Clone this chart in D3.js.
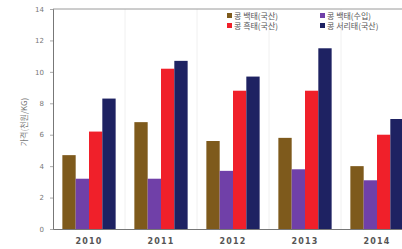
<!DOCTYPE html>
<html>
<head>
<meta charset="utf-8">
<script src="https://cdn.jsdelivr.net/npm/d3@7"></script>
<style>
  body { margin: 0; background: #fff; }
  svg { display: block; font-family: "Noto Sans CJK KR", "DejaVu Sans", sans-serif; }
</style>
</head>
<body>
<div id="wrapper"></div>
<script>
// 1. Data
const years = ["2010", "2011", "2012", "2013", "2014"]
const seriesNames = ["콩 백태(국산)", "콩 백태(수입)", "콩 흑태(국산)", "콩 서리태(국산)"]
const seriesColors = ["#7e5a1c", "#7040a8", "#f0202a", "#1e2262"]
const baekNational = [4.7, 6.8, 5.6, 5.8, 4.0]
const baekImport = [3.2, 3.2, 3.7, 3.8, 3.1]
const heukNational = [6.2, 10.2, 8.8, 8.8, 6.0]
const seoriNational = [8.3, 10.7, 9.7, 11.5, 7.0]
const yTicks = [0, 2, 4, 6, 8, 10, 12, 14]

const seriesValues = [baekNational, baekImport, heukNational, seoriNational]
const rows = years.map((y, i) => ({
  year: y,
  values: seriesValues.map((s, j) => ({ key: j, value: s[i] }))
}))

// 2. Dimensions
const dimensions = {
  width: 402,
  height: 249,
  margin: { top: 9, right: -11, bottom: 20, left: 53 }
}
dimensions.boundedWidth = dimensions.width - dimensions.margin.left - dimensions.margin.right
dimensions.boundedHeight = dimensions.height - dimensions.margin.top - dimensions.margin.bottom

// 3. Canvas
const wrapper = d3.select("#wrapper")
  .append("svg")
  .attr("width", dimensions.width)
  .attr("height", dimensions.height)

const bounds = wrapper.append("g")
  .attr("transform", `translate(${dimensions.margin.left},${dimensions.margin.top})`)

// 4. Scales
const xScale = d3.scaleBand()
  .domain(years)
  .range([0, dimensions.boundedWidth])
  .paddingInner(0.26)
  .paddingOuter(0.13)

const xInner = d3.scaleBand()
  .domain(d3.range(seriesNames.length))
  .range([0, xScale.bandwidth()])

const yScale = d3.scaleLinear()
  .domain([0, 14])
  .range([dimensions.boundedHeight, 0])

// faint separators between groups
bounds.append("g")
  .selectAll("line")
  .data(years.slice(1))
  .join("line")
    .attr("x1", d => xScale(d) - xScale.step() * xScale.paddingInner() / 2)
    .attr("x2", d => xScale(d) - xScale.step() * xScale.paddingInner() / 2)
    .attr("y1", 0)
    .attr("y2", dimensions.boundedHeight)
    .attr("stroke", "#f0f0f0")
    .attr("stroke-width", 1)

// 5. Bars
const groups = bounds.append("g")
  .selectAll("g")
  .data(rows)
  .join("g")
    .attr("transform", d => `translate(${xScale(d.year)},0)`)

groups.selectAll("rect")
  .data(d => d.values)
  .join("rect")
    .attr("x", d => xInner(d.key))
    .attr("y", d => yScale(d.value))
    .attr("width", xInner.bandwidth())
    .attr("height", d => dimensions.boundedHeight - yScale(d.value))
    .attr("fill", d => seriesColors[d.key])

// 6. Axes / frame
bounds.append("line")
  .attr("x1", 0).attr("x2", dimensions.boundedWidth)
  .attr("y1", 0).attr("y2", 0)
  .attr("stroke", "#9a9a9a")

const yAxisGenerator = d3.axisLeft(yScale)
  .tickValues(yTicks)
  .tickSize(3)
  .tickPadding(6)

const yAxis = bounds.append("g").call(yAxisGenerator)
yAxis.select(".domain").attr("stroke", "#777")
yAxis.selectAll(".tick line").attr("stroke", "#aaa")
yAxis.selectAll("text")
  .attr("fill", "#777")
  .style("font-size", "7px")
  .style("font-family", "DejaVu Sans, sans-serif")

const xAxisGenerator = d3.axisBottom(xScale)
  .tickSize(0)
  .tickPadding(9)

const xAxis = bounds.append("g")
  .attr("transform", `translate(0,${dimensions.boundedHeight})`)
  .call(xAxisGenerator)
xAxis.select(".domain").attr("stroke", "#777")
xAxis.selectAll("text")
  .attr("fill", "#555")
  .style("font-size", "8px")
  .style("font-weight", "bold")
  .style("letter-spacing", "1.2px")
  .style("font-family", "DejaVu Sans, sans-serif")

wrapper.append("text")
  .attr("transform", "translate(27,122) rotate(-90)")
  .attr("text-anchor", "middle")
  .attr("fill", "#777")
  .style("font-size", "8px")
  .text("가격(천원/KG)")

// 7. Legend
const legend = wrapper.append("g")
  .selectAll("g")
  .data(seriesNames)
  .join("g")
    .attr("transform", (d, i) => `translate(${i % 2 ? 320 : 227},${i < 2 ? 16 : 26})`)

legend.append("rect")
  .attr("x", 0).attr("y", -3)
  .attr("width", 5).attr("height", 5)
  .attr("fill", (d, i) => seriesColors[i])

legend.append("text")
  .attr("x", 7)
  .attr("y", 0)
  .attr("dy", "0.35em")
  .attr("fill", "#555")
  .style("font-size", "8px")
  .text(d => d)
</script>
</body>
</html>
